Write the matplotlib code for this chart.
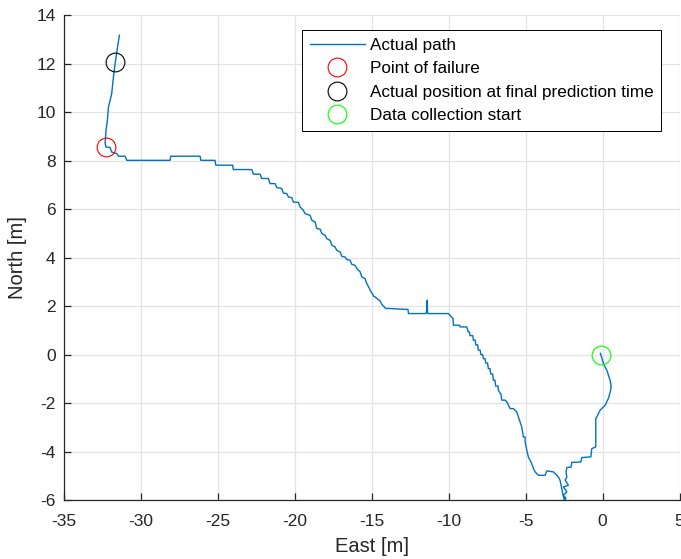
import numpy as np
import matplotlib.pyplot as plt

# path of the vehicle, east / north in metres (start -> end)
east = [-0.15, -0.05, 0.05, 0.27, 0.48, 0.55, 0.52, 0.37, 0.16, -0.17,
        -0.38, -0.45, -0.45, -0.71, -0.77, -1.36, -1.42, -2.01, -2.05, -2.33,
        -2.38, -2.33, -2.44, -2.23, -2.55, -2.33, -2.55, -2.38, -2.50, -2.66,
        -2.77, -2.88, -3.20, -3.63, -3.74, -4.18, -4.39, -4.50, -4.61, -4.83,
        -4.93, -5.04, -5.04, -5.15, -5.26, -5.37, -5.48, -5.58, -5.80, -6.01,
        -6.23, -6.34, -6.56, -6.60, -6.78, -6.80, -6.95, -7.00, -7.10, -7.15,
        -7.28, -7.32, -7.43, -7.48, -7.60, -7.64, -7.75, -7.80, -7.92, -7.96,
        -8.08, -8.12, -8.25, -8.28, -8.40, -8.44, -8.62, -8.66, -8.73, -8.83,
        -9.27, -9.30, -9.70, -9.72, -10.03,
        -11.38, -11.40, -11.45, -11.50, -12.62, -12.65, -13.92, -14.10, -14.35, -14.45,
        -14.79, -14.85, -15.11, -15.15,
        -15.33, -15.44, -15.65, -15.76, -15.98, -16.09, -16.30, -16.41, -16.63, -16.74,
        -16.95, -17.06, -17.28, -17.39, -17.60, -17.71, -17.93, -18.04, -18.25, -18.36,
        -18.58, -18.69, -18.90, -19.01, -19.34, -19.45, -19.66, -19.77, -20.10, -20.20,
        -20.42, -20.53, -20.75, -20.85, -21.18, -21.29, -21.61, -21.72, -22.15, -22.26,
        -22.70, -22.75, -22.80, -24.00, -24.04, -25.14, -25.19, -26.11, -26.16, -28.06,
        -28.11, -30.92, -31.03, -31.47, -31.57, -31.90, -32.01, -32.27, -32.33, -32.27,
        -32.18, -32.11, -31.90, -31.79, -31.68, -31.57, -31.40]
north = [0.05, -0.15, -0.37, -0.65, -1.06, -1.30, -1.47, -1.81, -2.09, -2.30,
         -2.57, -2.64, -3.81, -3.88, -4.22, -4.25, -4.43, -4.45, -4.64, -4.66,
         -4.84, -5.05, -5.18, -5.39, -5.46, -5.67, -5.80, -5.94, -5.99, -5.53,
         -5.18, -5.05, -4.84, -4.80, -4.98, -4.98, -4.84, -4.70, -4.50, -4.22,
         -3.95, -3.60, -3.40, -3.40, -2.99, -2.78, -2.57, -2.37, -2.23, -2.23,
         -1.95, -1.88, -1.88, -1.65, -1.47, -1.30, -1.30, -1.06, -1.06, -0.80,
         -0.80, -0.58, -0.58, -0.35, -0.35, -0.17, -0.17, 0.00, 0.00, 0.18,
         0.18, 0.40, 0.40, 0.59, 0.59, 0.78, 0.78, 0.93, 0.93, 1.14,
         1.14, 1.21, 1.21, 1.48, 1.69,
         1.69, 2.24, 1.75, 1.69, 1.69, 1.86, 1.90, 1.90, 2.07, 2.20,
         2.38, 2.38, 2.65, 2.72,
         2.93, 3.13, 3.20, 3.41, 3.55, 3.68, 3.72, 3.89, 3.92, 4.02,
         4.05, 4.23, 4.30, 4.44, 4.51, 4.71, 4.78, 4.92, 4.99, 5.17,
         5.20, 5.47, 5.54, 5.74, 5.81, 5.95, 6.09, 6.27, 6.29, 6.47,
         6.50, 6.64, 6.66, 6.85, 6.89, 7.05, 7.05, 7.26, 7.26, 7.44,
         7.44, 7.55, 7.63, 7.63, 7.81, 7.81, 8.01, 8.01, 8.18, 8.18,
         8.01, 8.01, 8.18, 8.18, 8.29, 8.35, 8.54, 8.56, 8.70, 9.25,
         9.66, 10.21, 10.76, 11.45, 12.00, 12.48, 13.17]

failure_pt = (-32.27, 8.54)
final_pt = (-31.68, 12.07)
start_pt = (-0.1, 0.0)

x_ticks = np.arange(-35, 6, 5)
y_ticks = np.arange(-6, 15, 2)

plt.rcParams['font.family'] = ['Liberation Sans', 'DejaVu Sans']
plt.rcParams['axes.unicode_minus'] = False

fig = plt.figure(figsize=(6.81, 5.59), dpi=100)
ax = fig.add_axes([0.094, 0.1055, 0.904, 0.8675])

ax.plot(east, north, color='#0072BD', lw=1.0, label='Actual path')
ax.plot(*failure_pt, 'o', ms=13.5, mfc='none', mec='#FF0000', mew=0.8,
        label='Point of failure')
ax.plot(*final_pt, 'o', ms=13.5, mfc='none', mec='k', mew=0.8,
        label='Actual position at final prediction time')
ax.plot(*start_pt, 'o', ms=13.5, mfc='none', mec='#00FF00', mew=0.8,
        label='Data collection start')

ax.set_xlim(-35, 5)
ax.set_ylim(-6, 14)
ax.set_xticks(x_ticks)
ax.set_yticks(y_ticks)
ax.grid(True, color='#e3e3e3', lw=0.9)
ax.set_axisbelow(True)

for side in ['top', 'right']:
    ax.spines[side].set_visible(False)
for side in ['left', 'bottom']:
    ax.spines[side].set_color('#262626')
    ax.spines[side].set_linewidth(0.9)
ax.tick_params(direction='in', length=5, width=0.9, colors='#262626',
               labelsize=12.5)
ax.tick_params(axis='x', pad=10)
ax.tick_params(axis='y', pad=6)

ax.set_xlabel('East [m]', fontsize=14.5, color='#262626', labelpad=6)
ax.set_ylabel('North [m]', fontsize=14.5, color='#262626', labelpad=7)

leg = ax.legend(loc='upper right', bbox_to_anchor=(0.970, 0.969),
                borderaxespad=0, fontsize=12.3, fancybox=False, framealpha=1,
                edgecolor='k', handlelength=3.2, handletextpad=0.3,
                labelspacing=0.5, borderpad=0.45)
leg.get_frame().set_linewidth(0.7)

fig.savefig('out.png', dpi=100)
